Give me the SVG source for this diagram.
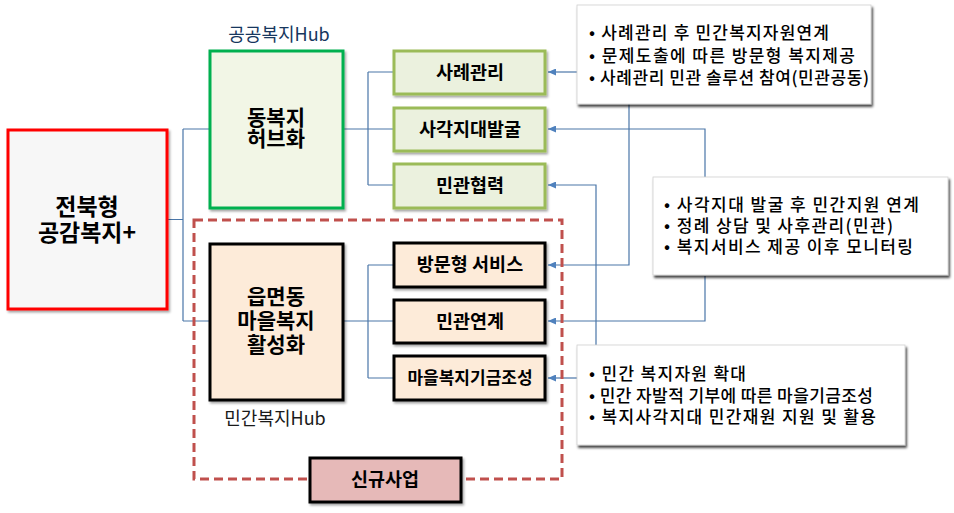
<svg xmlns="http://www.w3.org/2000/svg" width="954" height="513" viewBox="0 0 954 513">
<style>
text{font-family:"Noto Sans CJK KR","Noto Sans",sans-serif;fill:#000}
.big{font-size:23px;font-weight:bold;text-anchor:middle}
.mid{font-size:21px;font-weight:bold;text-anchor:middle}
.sub{font-size:18.5px;font-weight:bold;text-anchor:middle}
.note{font-size:17px;font-weight:500}
.hub{font-size:18px;text-anchor:middle}
.gsub{fill:#ebf1de;stroke:#9bbb59;stroke-width:3}
.osub{fill:#fdebd9;stroke:#000;stroke-width:3}
.conn{fill:none;stroke:#4a76a8;stroke-width:1.2}
.notebox{fill:#fff;stroke:#d0d0d0;stroke-width:0.8}
</style>
<defs>
<filter id="sh" x="-10%" y="-10%" width="120%" height="130%">
<feDropShadow dx="1.5" dy="2" stdDeviation="1.2" flood-color="#000" flood-opacity="0.35"/>
</filter>
<filter id="nsh" x="-10%" y="-10%" width="120%" height="130%">
<feDropShadow dx="1.5" dy="2.5" stdDeviation="1.2" flood-color="#000" flood-opacity="0.75"/>
</filter>
<marker id="arr" markerWidth="8" markerHeight="7" refX="8" refY="3.5" orient="auto" markerUnits="userSpaceOnUse">
<path d="M0,0 L8,3.5 L0,7 z" fill="#4f81bd"/>
</marker>
</defs>
<rect width="954" height="513" fill="#fff"/>

<g id="connectors">
<path class="conn" d="M167,219.5 H183 M183,129 V321 M183,129 H209 M183,321 H209"/>
<path class="conn" d="M344,129 H393 M368,72 V185 M368,72 H393 M368,185 H393"/>
<path class="conn" d="M344,321 H393 M368,265 V378 M368,265 H393 M368,378 H393"/>
<path class="conn" d="M577,72 H548" marker-end="url(#arr)"/>
<path class="conn" d="M705,177 V129 H548" marker-end="url(#arr)"/>
<path class="conn" d="M596,345 V185 H548" marker-end="url(#arr)"/>
<path class="conn" d="M629,104 V265 H548" marker-end="url(#arr)"/>
<path class="conn" d="M705,276 V321 H548" marker-end="url(#arr)"/>
<path class="conn" d="M577,378 H548" marker-end="url(#arr)"/>
</g>

<g id="dashed-region">
<rect x="194" y="220" width="368" height="259" fill="none" stroke="#c0504d" stroke-width="3" stroke-dasharray="9 5"/>
</g>

<g id="main">
<rect x="8" y="130" width="159" height="179" fill="#f7f7f7" stroke="#ff0000" stroke-width="3" filter="url(#sh)"/>
<text class="big"><tspan x="87" y="215">전북형</tspan><tspan x="87" y="241">공감복지+</tspan></text>
</g>

<g id="public-hub">
<text class="hub" x="279" y="41" style="fill:#17375e">공공복지Hub</text>
<rect x="210" y="51" width="133" height="157" fill="#f2f6e6" stroke="#00b050" stroke-width="3" filter="url(#sh)"/>
<text class="mid"><tspan x="276" y="125">동복지</tspan><tspan x="276" y="146">허브화</tspan></text>
</g>

<g id="case-mgmt">
<rect class="gsub" x="394" y="51" width="151" height="43" filter="url(#sh)"/>
<text class="sub" x="470" y="79">사례관리</text>
</g>
<g id="blind-spot">
<rect class="gsub" x="394" y="108" width="151" height="43" filter="url(#sh)"/>
<text class="sub" x="470" y="136">사각지대발굴</text>
</g>
<g id="cooperation">
<rect class="gsub" x="394" y="164" width="151" height="44" filter="url(#sh)"/>
<text class="sub" x="470" y="192">민관협력</text>
</g>

<g id="private-hub">
<rect x="210" y="244" width="133" height="156" fill="#fdebd9" stroke="#000" stroke-width="3" filter="url(#sh)"/>
<text class="mid"><tspan x="276" y="304">읍면동</tspan><tspan x="276" y="328">마을복지</tspan><tspan x="276" y="352">활성화</tspan></text>
<text class="hub" x="275" y="425" style="fill:#1a1a1a">민간복지Hub</text>
</g>

<g id="visit-service">
<rect class="osub" x="394" y="243" width="151" height="44" filter="url(#sh)"/>
<text class="sub" x="470" y="271">방문형 서비스</text>
</g>
<g id="link">
<rect class="osub" x="394" y="300" width="151" height="43" filter="url(#sh)"/>
<text class="sub" x="470" y="328">민관연계</text>
</g>
<g id="fund">
<rect class="osub" x="394" y="356" width="151" height="44" filter="url(#sh)"/>
<text class="sub" x="470" y="384" style="font-size:17px">마을복지기금조성</text>
</g>

<g id="new-project">
<rect x="310" y="458" width="151" height="44" fill="#e6b9b8" stroke="#000" stroke-width="3" filter="url(#sh)"/>
<text class="sub" x="385" y="486">신규사업</text>
</g>

<g id="note1">
<rect class="notebox" x="577" y="5" width="294" height="99" filter="url(#nsh)"/>
<text class="note"><tspan x="589" y="39" textLength="240" lengthAdjust="spacing">• 사례관리 후 민간복지자원연계</tspan><tspan x="589" y="62" textLength="266" lengthAdjust="spacing">• 문제도출에 따른 방문형 복지제공</tspan><tspan x="589" y="84" textLength="280" lengthAdjust="spacing">• 사례관리 민관 솔루션 참여(민관공동)</tspan></text>
</g>

<g id="note2">
<rect class="notebox" x="653" y="177" width="295" height="98" filter="url(#nsh)"/>
<text class="note"><tspan x="664" y="211" textLength="255" lengthAdjust="spacing">• 사각지대 발굴 후 민간지원 연계</tspan><tspan x="664" y="232" textLength="229" lengthAdjust="spacing">• 정례 상담 및 사후관리(민관)</tspan><tspan x="664" y="253" textLength="249" lengthAdjust="spacing">• 복지서비스 제공 이후 모니터링</tspan></text>
</g>

<g id="note3">
<rect class="notebox" x="577" y="345" width="328" height="100" filter="url(#nsh)"/>
<text class="note"><tspan x="589" y="380" textLength="157" lengthAdjust="spacing">• 민간 복지자원 확대</tspan><tspan x="589" y="402" textLength="284" lengthAdjust="spacing">• 민간 자발적 기부에 따른 마을기금조성</tspan><tspan x="589" y="423" textLength="287" lengthAdjust="spacing">• 복지사각지대 민간재원 지원 및 활용</tspan></text>
</g>
</svg>
